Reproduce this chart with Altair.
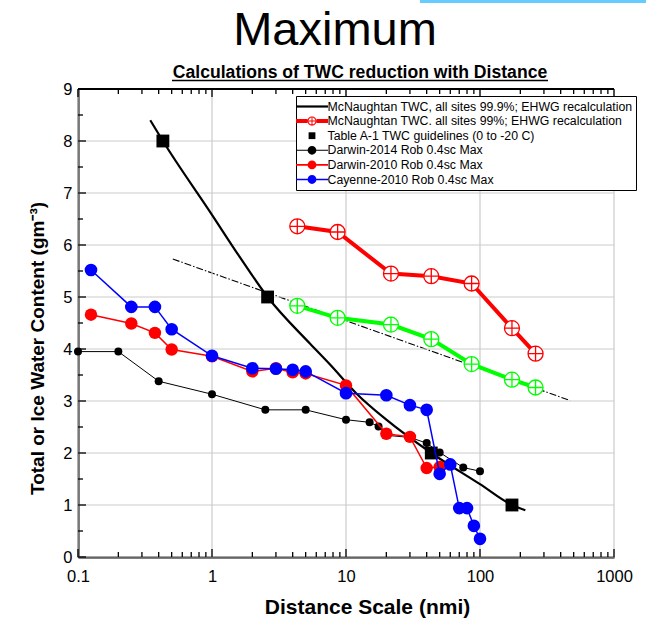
import altair as alt
import pandas as pd

F = "Liberation Sans, Arial, sans-serif"

# ---------------- data ----------------
# McNaughtan TWC, all sites 99.9%; EHWG recalculation (smooth black curve)
mcn999_x = [0.346, 0.43, 1.0, 1.6, 2.6, 5.4, 7.6, 12.0, 20.0, 43.3, 100.0, 173.2, 218.0]
mcn999_y = [8.40, 8.00, 6.58, 5.78, 5.00, 4.10, 3.70, 3.14, 2.64, 2.00, 1.40, 1.00, 0.90]

# McNaughtan TWC all sites 99% (red, crossed circles) and green companion series
mcn99_x = [4.33, 8.66, 21.65, 43.3, 86.6, 173.2, 259.8]
mcn99_y = [6.36, 6.25, 5.45, 5.40, 5.26, 4.40, 3.91]
green_y = [4.83, 4.60, 4.47, 4.19, 3.71, 3.41, 3.26]

# Table A-1 TWC guidelines (0 to -20 C)
tab_x = [0.43, 2.6, 43.3, 173.2]
tab_y = [8.0, 5.0, 2.0, 1.0]

# dash-dot reference line
dd_x = [0.51, 470.0]
dd_y = [5.73, 3.01]

# Darwin-2014 Rob 0.4sc Max
d14_x = [0.1, 0.2, 0.4, 1, 2.5, 5, 10, 15, 17.5, 20, 30, 40, 50, 75, 100]
d14_y = [3.95, 3.95, 3.38, 3.13, 2.83, 2.83, 2.64, 2.59, 2.51, 2.34, 2.30, 2.19, 2.01, 1.72, 1.65]

# Darwin-2010 Rob 0.4sc Max
d10_x = [0.125, 0.25, 0.375, 0.5, 1, 2, 3, 4, 5, 10, 20, 30, 40, 50]
d10_y = [4.66, 4.49, 4.31, 3.99, 3.86, 3.57, 3.63, 3.55, 3.53, 3.30, 2.37, 2.31, 1.71, 1.73]

# Cayenne-2010 Rob 0.4sc Max
cay_x = [0.125, 0.25, 0.375, 0.5, 1, 2, 3, 4, 5, 10, 20, 30, 40, 50, 60, 70, 80, 90, 100]
cay_y = [5.52, 4.81, 4.81, 4.38, 3.87, 3.63, 3.62, 3.60, 3.57, 3.15, 3.11, 2.92, 2.83,
         1.60, 1.78, 0.94, 0.94, 0.60, 0.35]

legend_labels = [
    "McNaughtan TWC, all sites 99.9%; EHWG recalculation",
    "McNaughtan TWC. all sites 99%; EHWG recalculation",
    "Table A-1 TWC guidelines (0 to -20 C)",
    "Darwin-2014 Rob 0.4sc Max",
    "Darwin-2010 Rob 0.4sc Max",
    "Cayenne-2010 Rob 0.4sc Max",
]
legend_colors = ["#000000", "#ff0000", "#000000", "#000000", "#ff0000", "#0000ff"]

X_MIN, X_MAX = 0.1, 1000
Y_MIN, Y_MAX = 0, 9
x_major = [0.1, 1, 10, 100, 1000]
x_minor = [m * d for d in [0.1, 1, 10, 100] for m in range(2, 10)]
y_major = list(range(0, 10))
y_minor = [i + 0.5 for i in range(0, 9)]

title_text = "Maximum"
subtitle_text = "Calculations of TWC reduction with Distance"


def df(xs, ys):
    return pd.DataFrame({"x": xs, "y": ys})


# ---------------- symbol paths ----------------
U = 7.0  # legend symbol unit (px) -> size 196


def _n(v):
    return f"{v / U:.4f}"


def rect(x0, x1, y0, y1):
    return f"M{_n(x0)},{_n(y0)}H{_n(x1)}V{_n(y1)}H{_n(x0)}Z"


def circ(r, sweep=1):
    return (f"M{_n(-r)},0A{_n(r)},{_n(r)} 0 1,{sweep} {_n(r)},0"
            f"A{_n(r)},{_n(r)} 0 1,{sweep} {_n(-r)},0Z")


L = 16
leg_paths = [
    rect(-L, L, -1.1, 1.1),
    rect(-L, -4.6, -2, 2) + rect(4.6, L, -2, 2) + circ(4.6, 1) + circ(3.5, 0)
    + rect(-0.5, 0.5, -3.3, 3.3) + rect(-3.3, 3.3, -0.5, 0.5),
    rect(-3.4, 3.4, -3.4, 3.4),
    rect(-L, L, -0.55, 0.55) + circ(4.4),
    rect(-L, L, -0.8, 0.8) + circ(4.4),
    rect(-L, L, -0.8, 0.8) + circ(4.4),
]
OPLUS = "M-1,0A1,1 0 1,1 1,0A1,1 0 1,1 -1,0Z M-1,0H1 M0,-1V1"

# ---------------- scales & axes ----------------
W, H = 536, 468
xscale = alt.Scale(type="log", domain=[X_MIN, X_MAX], nice=False)
yscale = alt.Scale(domain=[Y_MIN, Y_MAX], nice=False, zero=False)

GRID = "#cccccc"

ax_x_main = alt.Axis(orient="bottom", values=x_major, format="~g", grid=False,
                     ticks=False, tickSize=0, domain=True, domainColor="black",
                     domainWidth=2, labelFont=F, labelFontSize=16.5, labelColor="black",
                     labelPadding=11, labelFlush=False, labelOverlap=False,
                     title="Distance Scale (nmi)", titleFont=F, titleFontSize=21,
                     titleFontWeight="bold", titleColor="black", titleX=289, titleY=50,
                     titleAlign="center", titleBaseline="middle")
ax_y_main = alt.Axis(orient="left", values=y_major, grid=False,
                     ticks=False, tickSize=0, domain=True, domainColor="black", domainWidth=2,
                     labelFont=F, labelFontSize=16.5, labelColor="black", labelPadding=6,
                     labelFlush=False, labelOverlap=False,
                     title="Total or Ice Water Content (gm\u207b\u00b3)", titleFont=F,
                     titleFontSize=19, titleFontWeight="bold", titleColor="black",
                     titleX=-41, titleY=259, titleAlign="center", titleBaseline="middle",
                     titleAngle=270)


def X(field="x:Q", axis=None):
    if axis is None:
        return alt.X(field, scale=xscale)
    return alt.X(field, scale=xscale, axis=axis)


def Y(field="y:Q", axis=None):
    if axis is None:
        return alt.Y(field, scale=yscale)
    return alt.Y(field, scale=yscale, axis=axis)


# ---------------- gridlines (through the scales), drawn first ----------------
grid_v = alt.Chart(pd.DataFrame({"v": x_major})).mark_rule(color=GRID, strokeWidth=1.2).encode(
    x=X("v:Q"))
grid_h = alt.Chart(pd.DataFrame({"v": y_major})).mark_rule(color=GRID, strokeWidth=1.2).encode(
    y=Y("v:Q"))
top_line = alt.Chart(pd.DataFrame({"v": [Y_MAX]})).mark_rule(color="black", strokeWidth=2).encode(
    y=Y("v:Q"))

# ---------------- inward tick marks: short segments drawn through the scales ----------------
ty_major = 8 * (Y_MAX - Y_MIN) / H     # 8 px in y data units
ty_minor = 5 * (Y_MAX - Y_MIN) / H     # 5 px
tx_major = 10 ** (8 * 4 / W)           # 8 px as a factor on the log x axis
tx_minor = 10 ** (5 * 4 / W)


def tick_frame():
    rows = []
    g = 0
    for vals, ty in ((x_major, ty_major), (x_minor, ty_minor)):
        for v in vals:
            rows += [(v, Y_MIN, g), (v, Y_MIN + ty, g)]
            g += 1
            rows += [(v, Y_MAX, g), (v, Y_MAX - ty, g)]
            g += 1
    for vals, tx in ((y_major, tx_major), (y_minor, tx_minor)):
        for v in vals:
            rows += [(X_MIN, v, g), (X_MIN * tx, v, g)]
            g += 1
    return pd.DataFrame(rows, columns=["x", "y", "g"])


ticks = alt.Chart(tick_frame()).mark_line(color="black", strokeWidth=1.3, strokeCap="butt").encode(
    x=X(), y=Y(), detail="g:N")

# ---------------- data layers ----------------
dd = alt.Chart(df(dd_x, dd_y)).mark_line(color="black", strokeWidth=1.1,
                                          strokeDash=[7, 2, 1.5, 2]).encode(
    x=X(axis=ax_x_main), y=Y(axis=ax_y_main))

green_line = alt.Chart(df(mcn99_x, green_y)).mark_line(color="#00ff00", strokeWidth=4).encode(
    x=X(), y=Y())
green_pts = alt.Chart(df(mcn99_x, green_y)).mark_point(
    shape=OPLUS, size=225, filled=True, fill="white", stroke="#00ff00", strokeWidth=1.3,
    opacity=1).encode(x=X(), y=Y())

red_line = alt.Chart(df(mcn99_x, mcn99_y)).mark_line(color="#ff0000", strokeWidth=4).encode(
    x=X(), y=Y())
red_pts = alt.Chart(df(mcn99_x, mcn99_y)).mark_point(
    shape=OPLUS, size=225, filled=True, fill="white", stroke="#ff0000", strokeWidth=1.3,
    opacity=1).encode(x=X(), y=Y())

curve = alt.Chart(df(mcn999_x, mcn999_y)).mark_line(
    color="black", strokeWidth=2.2, interpolate="monotone").encode(x=X(), y=Y())

squares = alt.Chart(df(tab_x, tab_y)).mark_square(size=165, color="black", opacity=1).encode(
    x=X(), y=Y())

d14_line = alt.Chart(df(d14_x, d14_y)).mark_line(color="black", strokeWidth=1).encode(
    x=X(), y=Y())
d14_pts = alt.Chart(df(d14_x, d14_y)).mark_circle(size=64, color="black", opacity=1).encode(
    x=X(), y=Y())

d10_line = alt.Chart(df(d10_x, d10_y)).mark_line(color="#ff0000", strokeWidth=1.5).encode(
    x=X(), y=Y())
d10_pts = alt.Chart(df(d10_x, d10_y)).mark_circle(size=155, color="#ff0000", opacity=1).encode(
    x=X(), y=Y())

cay_line = alt.Chart(df(cay_x, cay_y)).mark_line(color="#0000ff", strokeWidth=1.5).encode(
    x=X(), y=Y())
cay_pts = alt.Chart(df(cay_x, cay_y)).mark_circle(size=160, color="#0000ff", opacity=1).encode(
    x=X(), y=Y())

LEG = alt.Legend(orient="none", legendX=218, legendY=7, title=None, padding=3.5,
                 strokeColor="black", fillColor="white", symbolSize=196, symbolStrokeWidth=0,
                 symbolOffset=5.5, labelOffset=8.5, labelFont=F, labelFontSize=12.3,
                 labelColor="black", labelLimit=500, rowPadding=0.6)
legend_layer = alt.Chart(alt.Data(values=[])).mark_point(filled=True, opacity=1, size=196).encode(
    color=alt.Color("series:N", scale=alt.Scale(domain=legend_labels, range=legend_colors),
                    legend=LEG),
    shape=alt.Shape("series:N", scale=alt.Scale(domain=legend_labels, range=leg_paths),
                    legend=LEG),
)

one = pd.DataFrame({"t": [title_text]})
title_mark = alt.Chart(one).mark_text(font=F, fontSize=47, align="center",
                                      baseline="alphabetic", color="black").encode(
    text="t:N", x=alt.value(257), y=alt.value(-44.5))
sub = pd.DataFrame({"t": [subtitle_text]})
sub_mark = alt.Chart(sub).mark_text(font=F, fontSize=17.6, fontWeight="bold", align="center",
                                    baseline="alphabetic", color="black").encode(
    text="t:N", x=alt.value(282), y=alt.value(-11))
underline = alt.Chart(sub).mark_rule(color="black", strokeWidth=1.5).encode(
    x=alt.value(94), x2=alt.value(470), y=alt.value(-8.5))
bluebar = alt.Chart(one).mark_rule(color="#66ccff", strokeWidth=3).encode(
    x=alt.value(342), x2=alt.value(568), y=alt.value(-87.5))

chart = alt.layer(
    dd, grid_v, grid_h, top_line, ticks,
    green_line, green_pts, red_line, red_pts, curve, squares,
    d14_line, d14_pts, d10_line, d10_pts, cay_line, cay_pts,
    legend_layer, title_mark, sub_mark, underline, bluebar,
).properties(
    width=W, height=H,
    autosize=alt.AutoSizeParams(type="none"),
    padding={"left": 78, "top": 89, "right": 32, "bottom": 65},
    background="white",
).configure_view(stroke=None)

chart.save("out.html", embed_options={"renderer": "svg", "actions": False})
